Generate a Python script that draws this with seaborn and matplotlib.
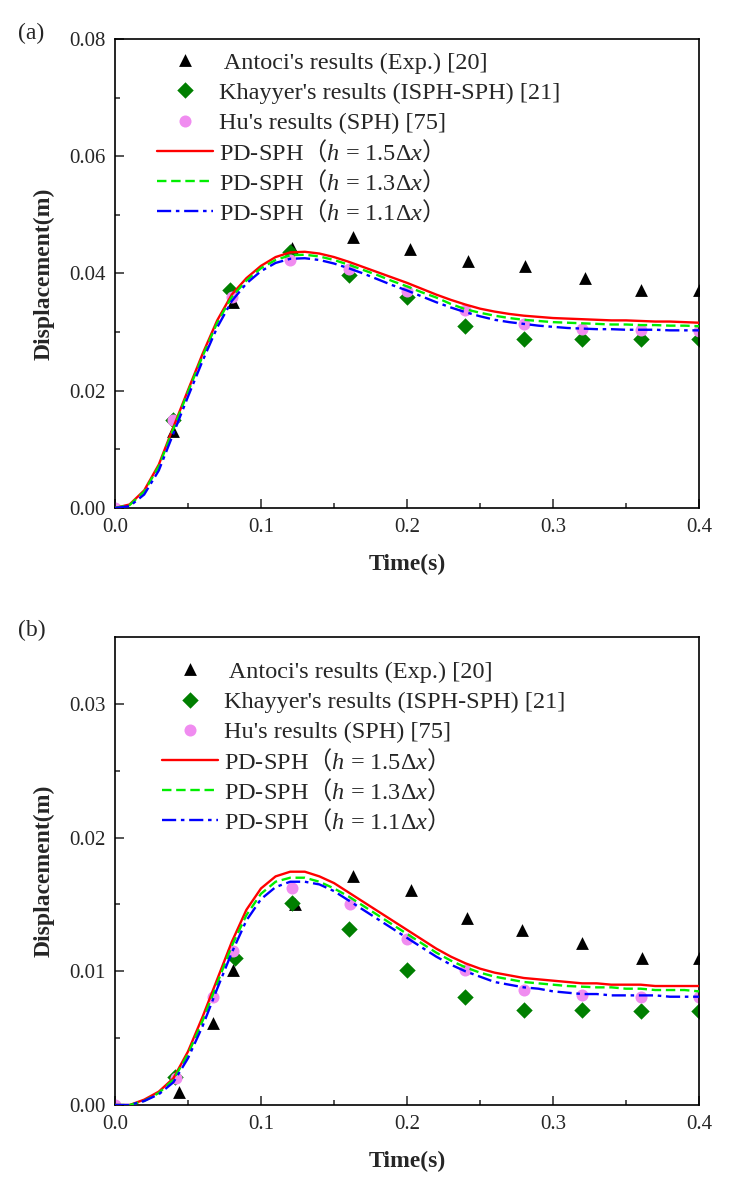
import numpy as np
import pandas as pd
import seaborn as sns
import matplotlib.pyplot as plt
from matplotlib.legend_handler import HandlerLine2D

# time axis of the PD-SPH curves (read every 0.01 s)
t_line = [0.00, 0.01, 0.02, 0.03, 0.04, 0.05, 0.06, 0.07, 0.08, 0.09,
          0.10, 0.11, 0.12, 0.13, 0.14, 0.15, 0.16, 0.17, 0.18, 0.19,
          0.20, 0.21, 0.22, 0.23, 0.24, 0.25, 0.26, 0.27, 0.28, 0.29,
          0.30, 0.31, 0.32, 0.33, 0.34, 0.35, 0.36, 0.37, 0.38, 0.39, 0.40]

# ---- panel (a) ----
a_h15 = [0.0000, 0.0006, 0.0030, 0.0074, 0.0138, 0.0201, 0.0263, 0.0320, 0.0364, 0.0392,
         0.0413, 0.0428, 0.0436, 0.0437, 0.0434, 0.0428, 0.0420, 0.0411, 0.0402, 0.0393,
         0.0384, 0.0374, 0.0364, 0.0355, 0.0347, 0.0340, 0.0335, 0.0331, 0.0328, 0.0326,
         0.0324, 0.0323, 0.0322, 0.0321, 0.0320, 0.0320, 0.0319, 0.0318, 0.0318, 0.0317, 0.0316]
a_h13 = [0.0000, 0.0005, 0.0028, 0.0071, 0.0135, 0.0198, 0.0259, 0.0316, 0.0360, 0.0388,
         0.0409, 0.0423, 0.0431, 0.0432, 0.0429, 0.0423, 0.0415, 0.0406, 0.0397, 0.0387,
         0.0378, 0.0368, 0.0359, 0.0348, 0.0339, 0.0333, 0.0328, 0.0324, 0.0321, 0.0319,
         0.0317, 0.0316, 0.0315, 0.0314, 0.0313, 0.0313, 0.0312, 0.0312, 0.0311, 0.0311, 0.0310]
a_h11 = [0.0000, 0.0003, 0.0023, 0.0064, 0.0127, 0.0190, 0.0251, 0.0308, 0.0353, 0.0383,
         0.0404, 0.0418, 0.0425, 0.0426, 0.0423, 0.0417, 0.0409, 0.0400, 0.0390, 0.0380,
         0.0371, 0.0361, 0.0351, 0.0342, 0.0334, 0.0327, 0.0321, 0.0317, 0.0314, 0.0311,
         0.0309, 0.0307, 0.0306, 0.0305, 0.0305, 0.0304, 0.0304, 0.0304, 0.0303, 0.0303, 0.0303]

a_antoci_t = [0.040, 0.081, 0.121, 0.163, 0.202, 0.242, 0.281, 0.322, 0.360, 0.400]
a_antoci_y = [0.0131, 0.0351, 0.0443, 0.0462, 0.0441, 0.0422, 0.0412, 0.0392, 0.0372, 0.0372]
a_khayyer_t = [0.040, 0.079, 0.120, 0.160, 0.200, 0.240, 0.280, 0.320, 0.360, 0.400]
a_khayyer_y = [0.0150, 0.0372, 0.0436, 0.0398, 0.0360, 0.0310, 0.0289, 0.0289, 0.0289, 0.0288]
a_hu_t = [0.000, 0.040, 0.080, 0.120, 0.160, 0.200, 0.240, 0.280, 0.320, 0.360, 0.400]
a_hu_y = [0.0000, 0.0150, 0.0360, 0.0423, 0.0407, 0.0370, 0.0337, 0.0313, 0.0305, 0.0303, 0.0302]

# ---- panel (b) ----
b_h15 = [0.0000, 0.0000, 0.0004, 0.0010, 0.0020, 0.0040, 0.0066, 0.0094, 0.0122, 0.0146,
         0.0162, 0.0171, 0.01745, 0.01745, 0.0171, 0.0166, 0.0159, 0.0152, 0.0145, 0.0138,
         0.0131, 0.0124, 0.0117, 0.0111, 0.0106, 0.0102, 0.0099, 0.0097, 0.0095, 0.0094,
         0.0093, 0.0092, 0.0091, 0.0091, 0.0090, 0.0090, 0.0090, 0.0089, 0.0089, 0.0089, 0.0089]
b_h13 = [0.0000, 0.0000, 0.0003, 0.0009, 0.0019, 0.0038, 0.0063, 0.0091, 0.0119, 0.0142,
         0.0158, 0.0167, 0.0170, 0.0170, 0.0167, 0.0162, 0.0156, 0.0149, 0.0142, 0.0135,
         0.0128, 0.0121, 0.0114, 0.0108, 0.0103, 0.0099, 0.0096, 0.0094, 0.0092, 0.0091,
         0.0090, 0.0089, 0.00885, 0.0088, 0.0088, 0.0087, 0.0087, 0.0086, 0.0086, 0.0086, 0.0085]
b_h11 = [0.0000, 0.0000, 0.0003, 0.0008, 0.0017, 0.0035, 0.0059, 0.0087, 0.0114, 0.0138,
         0.0154, 0.0163, 0.0167, 0.0167, 0.0165, 0.0160, 0.0153, 0.0146, 0.0139, 0.0132,
         0.0125, 0.0118, 0.0111, 0.0105, 0.0100, 0.0096, 0.0092, 0.0090, 0.0088, 0.0087,
         0.0085, 0.0084, 0.0083, 0.0083, 0.0082, 0.0082, 0.0082, 0.0082, 0.0081, 0.0081, 0.0081]

b_antoci_t = [0.044, 0.067, 0.081, 0.123, 0.163, 0.203, 0.241, 0.279, 0.320, 0.361, 0.400]
b_antoci_y = [0.0010, 0.0061, 0.0101, 0.0150, 0.0171, 0.0161, 0.0140, 0.0131, 0.0121, 0.0110, 0.0110]
b_khayyer_t = [0.041, 0.082, 0.121, 0.160, 0.200, 0.240, 0.280, 0.320, 0.360, 0.400]
b_khayyer_y = [0.0021, 0.0110, 0.0151, 0.0132, 0.0101, 0.0081, 0.0071, 0.0071, 0.0070, 0.0070]
b_hu_t = [0.000, 0.042, 0.067, 0.081, 0.121, 0.161, 0.200, 0.240, 0.280, 0.320, 0.360, 0.400]
b_hu_y = [0.0000, 0.0020, 0.0081, 0.0115, 0.0162, 0.0150, 0.0124, 0.0101, 0.0086, 0.0082, 0.0081, 0.0081]

# full-width brackets go through \mathrm so they come from the CJK font
labels = [" Antoci's results (Exp.) [20]",
          "Khayyer's results (ISPH-SPH) [21]",
          "Hu's results (SPH) [75]",
          r"PD-SPH$\mathrm{（}h$ = 1.5Δ$x\mathrm{）}$",
          r"PD-SPH$\mathrm{（}h$ = 1.3Δ$x\mathrm{）}$",
          r"PD-SPH$\mathrm{（}h$ = 1.1Δ$x\mathrm{）}$"]

LEG_FS = 17.5

sns.set_style("ticks")
plt.rcParams["font.family"] = ["Liberation Serif", "Noto Sans CJK SC"]
plt.rcParams["mathtext.fontset"] = "custom"
plt.rcParams["mathtext.rm"] = "Noto Sans CJK SC"
plt.rcParams["mathtext.it"] = "Liberation Serif:italic"
plt.rcParams["axes.linewidth"] = 1.2
plt.rcParams["axes.edgecolor"] = "black"


def keep_line_mid(leg_line, orig):
    # tall handle boxes give equal rows; put the sample back at text height
    leg_line.update_from(orig)
    leg_line.set_ydata(np.full(len(leg_line.get_xdata()), 0.35 * LEG_FS))


def draw_panel(ax, antoci, khayyer, hu, curves, ylim, ymajor, leg_anchor):
    sns.scatterplot(x=antoci[0], y=antoci[1], ax=ax, marker="^", s=85,
                    color="black", linewidth=0, label=labels[0], zorder=2)
    sns.scatterplot(x=khayyer[0], y=khayyer[1], ax=ax, marker="D", s=70,
                    color="#007F00", linewidth=0, label=labels[1], zorder=2)
    sns.scatterplot(x=hu[0], y=hu[1], ax=ax, marker="o", s=75,
                    color="#F08CF0", linewidth=0, label=labels[2], zorder=2)
    sns.lineplot(x=t_line, y=curves[0], ax=ax, color="#FF0000", lw=1.7,
                 label=labels[3], zorder=3)
    sns.lineplot(x=t_line, y=curves[1], ax=ax, color="#00EE00", lw=1.7,
                 linestyle=(0, (4, 2)), label=labels[4], zorder=3)
    sns.lineplot(x=t_line, y=curves[2], ax=ax, color="#0000FF", lw=1.7,
                 linestyle=(0, (6, 2, 1.5, 2)), label=labels[5], zorder=3)

    ax.set_xlim(0, 0.4)
    ax.set_ylim(0, ylim)
    ax.set_xticks(np.arange(0, 0.41, 0.1))
    ax.set_xticks(np.arange(0.05, 0.4, 0.1), minor=True)
    ax.set_yticks(np.arange(0, ylim + 1e-9, ymajor))
    ax.set_yticks(np.arange(ymajor / 2, ylim, ymajor), minor=True)
    ax.xaxis.set_major_formatter(plt.FormatStrFormatter("%.1f"))
    ax.yaxis.set_major_formatter(plt.FormatStrFormatter("%.2f"))
    ax.tick_params(which="major", direction="in", length=6.5, width=1.1,
                   labelsize=15, pad=7, top=False, right=False)
    ax.tick_params(which="minor", direction="in", length=3.5, width=1.1,
                   top=False, right=False)
    for sp in ax.spines.values():
        sp.set_visible(True)
        sp.set_linewidth(1.2)
    ax.set_xlabel("Time(s)", fontsize=17, fontweight="bold", labelpad=12)
    ax.set_ylabel("Displacement(m)", fontsize=17, fontweight="bold", labelpad=10)

    handles, labs = ax.get_legend_handles_labels()
    line_handler = HandlerLine2D(update_func=keep_line_mid)
    hmap = {h: line_handler for h in handles[3:]}
    ax.legend(handles, labs, loc="upper left", bbox_to_anchor=leg_anchor,
              frameon=False, fontsize=LEG_FS, borderpad=0, borderaxespad=0,
              handlelength=2.3, handletextpad=0.25, labelspacing=0.02,
              handleheight=1.5, scatterpoints=1, scatteryoffsets=[0.287],
              handler_map=hmap)


fig = plt.figure(figsize=(7.39, 11.95), dpi=100)
ax_a = fig.add_axes([0.1556, 0.5749, 0.7903, 0.3925])
ax_b = fig.add_axes([0.1556, 0.0753, 0.7903, 0.3916])

draw_panel(ax_a, (a_antoci_t, a_antoci_y), (a_khayyer_t, a_khayyer_y), (a_hu_t, a_hu_y),
           (a_h15, a_h13, a_h11), 0.08, 0.02, (0.072, 0.985))
draw_panel(ax_b, (b_antoci_t, b_antoci_y), (b_khayyer_t, b_khayyer_y), (b_hu_t, b_hu_y),
           (b_h15, b_h13, b_h11), 0.035, 0.01, (0.080, 0.9615))

fig.text(0.024, 1 - 33 / 1195, "(a)", fontsize=17, va="center", ha="left")
fig.text(0.024, 1 - 630 / 1195, "(b)", fontsize=17, va="center", ha="left")

fig.savefig("out.png", dpi=100)
